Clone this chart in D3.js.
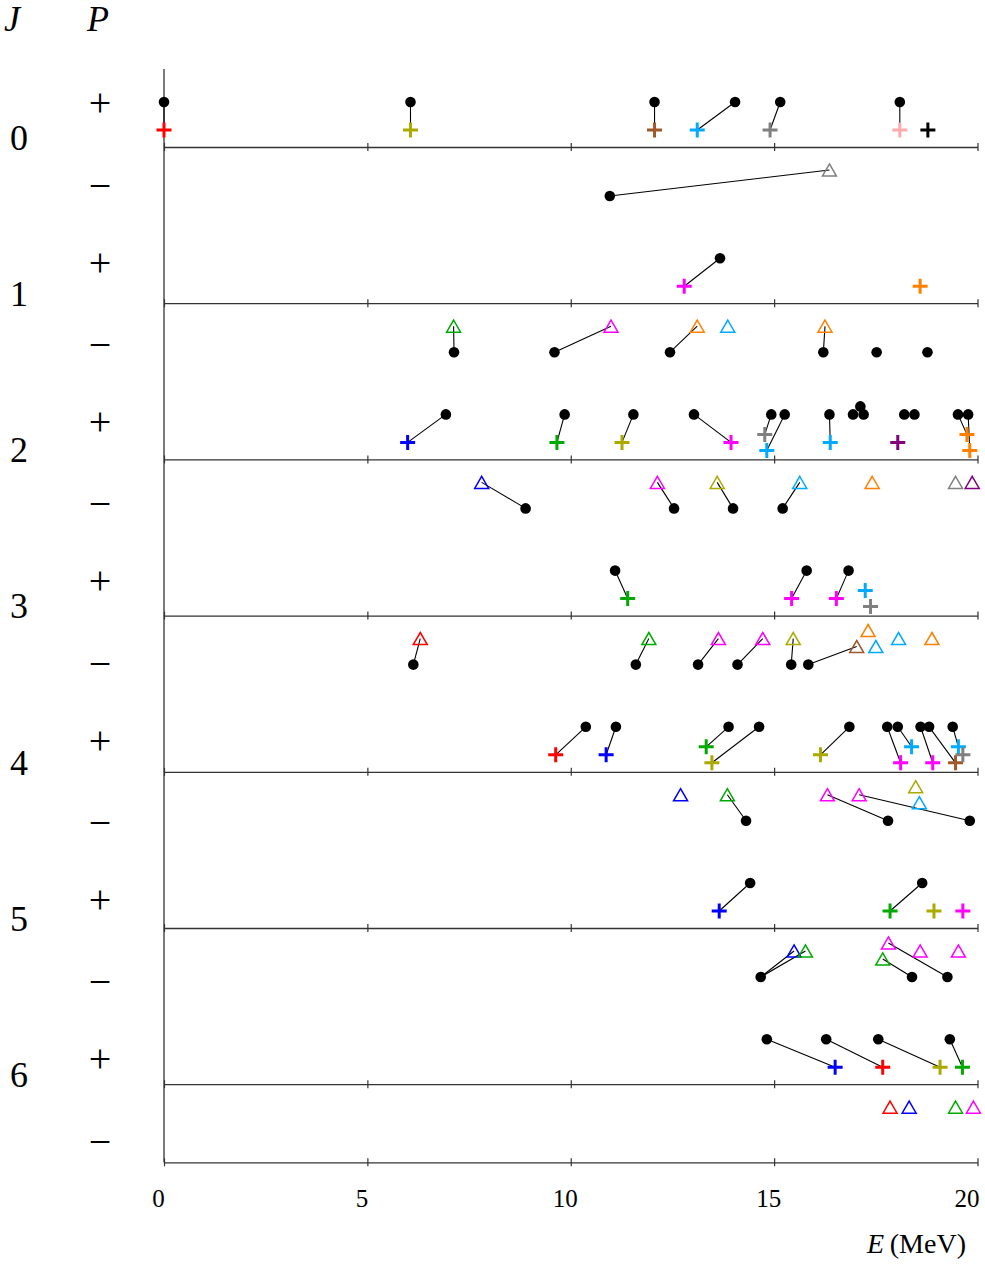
<!DOCTYPE html>
<html>
<head>
<meta charset="utf-8">
<script src="https://cdn.jsdelivr.net/npm/d3@7"></script>
<style>
body { margin: 0; background: #fff; }
text { font-family: "Liberation Serif", "DejaVu Serif", serif; fill: #000; }
</style>
</head>
<body>
<svg width="985" height="1264"></svg>
<script>
// spins and tick values
var spins = [0, 1, 2, 3, 4, 5, 6];
var energyTicks = [0, 5, 10, 15, 20];

// computed levels: [J, parity, E (MeV), tier]
var theoryLevels = [
  [0, "+", 0.00, 0], [0, "+", 6.06, 0], [0, "+", 12.06, 0], [0, "+", 14.04, 0], [0, "+", 15.15, 0], [0, "+", 18.09, 0],
  [0, "-", 10.96, 0],
  [1, "+", 13.67, 0],
  [1, "-", 7.13, 0], [1, "-", 9.60, 0], [1, "-", 12.44, 0], [1, "-", 16.21, 0], [1, "-", 17.52, 0], [1, "-", 18.77, 0],
  [2, "+", 6.93, 0], [2, "+", 9.85, 0], [2, "+", 11.54, 0], [2, "+", 13.03, 0], [2, "+", 14.93, 0], [2, "+", 15.26, 0],
  [2, "+", 16.36, 0], [2, "+", 16.94, 0], [2, "+", 17.12, 1], [2, "+", 17.20, 0], [2, "+", 18.20, 0], [2, "+", 18.45, 0],
  [2, "+", 19.52, 0], [2, "+", 19.77, 0],
  [2, "-", 8.89, 0], [2, "-", 12.54, 0], [2, "-", 13.99, 0], [2, "-", 15.21, 0],
  [3, "+", 11.09, 0], [3, "+", 15.80, 0], [3, "+", 16.83, 0],
  [3, "-", 6.13, 0], [3, "-", 11.60, 0], [3, "-", 13.13, 0], [3, "-", 14.10, 0], [3, "-", 15.42, 0], [3, "-", 15.84, 0],
  [4, "+", 10.37, 0], [4, "+", 11.11, 0], [4, "+", 13.88, 0], [4, "+", 14.63, 0], [4, "+", 16.85, 0], [4, "+", 17.78, 0],
  [4, "+", 18.04, 0], [4, "+", 18.60, 0], [4, "+", 18.81, 0], [4, "+", 19.39, 0],
  [4, "-", 14.31, 0], [4, "-", 17.80, 0], [4, "-", 19.81, 0],
  [5, "+", 14.41, 0], [5, "+", 18.64, 0],
  [5, "-", 14.67, 0], [5, "-", 18.39, 0], [5, "-", 19.26, 0],
  [6, "+", 14.82, 0], [6, "+", 16.28, 0], [6, "+", 17.56, 0], [6, "+", 19.32, 0]
];

// measured levels: [J, parity, E (MeV), group, tier, E of linked computed level or null]
var measuredLevels = [
  [0, "+", 0.00, "red", 0, 0.00], [0, "+", 6.06, "olive", 0, 6.06], [0, "+", 12.06, "brown", 0, 12.06],
  [0, "+", 13.11, "cyan", 0, 14.04], [0, "+", 14.90, "gray", 0, 15.15], [0, "+", 18.09, "pink", 0, 18.09],
  [0, "+", 18.78, "black", 0, null],
  [0, "-", 16.36, "gray", 0, 10.96],
  [1, "+", 12.79, "magenta", 0, 13.67], [1, "+", 18.59, "orange", 0, null],
  [1, "-", 7.12, "green", 0, 7.13], [1, "-", 10.99, "magenta", 0, 9.60], [1, "-", 13.11, "orange", 0, 12.44],
  [1, "-", 13.86, "cyan", 0, null], [1, "-", 16.25, "orange", 0, 16.21],
  [2, "+", 5.99, "blue", 0, 6.93], [2, "+", 9.66, "green", 0, 9.85], [2, "+", 11.26, "olive", 0, 11.54],
  [2, "+", 13.94, "magenta", 0, 13.03], [2, "+", 14.77, "gray", 1, 14.93], [2, "+", 14.82, "cyan", -1, 15.26],
  [2, "+", 16.38, "cyan", 0, 16.36], [2, "+", 18.04, "purple", 0, null], [2, "+", 19.74, "orange", 1, 19.52],
  [2, "+", 19.81, "orange", -1, 19.77],
  [2, "-", 7.81, "blue", 0, 8.89], [2, "-", 12.13, "magenta", 0, 12.54], [2, "-", 13.60, "olive", 0, 13.99],
  [2, "-", 15.63, "cyan", 0, 15.21], [2, "-", 17.41, "orange", 0, null], [2, "-", 19.46, "gray", 0, null],
  [2, "-", 19.87, "purple", 0, null],
  [3, "+", 11.40, "green", 0, 11.09], [3, "+", 15.43, "magenta", 0, 15.80], [3, "+", 16.53, "magenta", 0, 16.83],
  [3, "+", 17.24, "cyan", 1, null], [3, "+", 17.37, "gray", -1, null],
  [3, "-", 6.30, "red", 0, 6.13], [3, "-", 11.92, "green", 0, 11.60], [3, "-", 13.63, "magenta", 0, 13.13],
  [3, "-", 14.72, "magenta", 0, 14.10], [3, "-", 15.47, "olive", 0, 15.42], [3, "-", 17.03, "brown", -1, 15.84],
  [3, "-", 17.31, "orange", 1, null], [3, "-", 17.50, "cyan", -1, null], [3, "-", 18.06, "cyan", 0, null],
  [3, "-", 18.88, "orange", 0, null],
  [4, "+", 9.63, "red", 0, 10.37], [4, "+", 10.87, "blue", 0, 11.11], [4, "+", 13.33, "green", 1, 13.88],
  [4, "+", 13.47, "olive", -1, 14.63], [4, "+", 16.14, "olive", 0, 16.85], [4, "+", 18.11, "magenta", -1, 17.78],
  [4, "+", 18.38, "cyan", 1, 18.04], [4, "+", 18.90, "magenta", -1, 18.60], [4, "+", 19.46, "brown", -1, 18.81],
  [4, "+", 19.53, "cyan", 1, 19.39], [4, "+", 19.64, "gray", 0, null],
  [4, "-", 12.70, "blue", 0, null], [4, "-", 13.85, "green", 0, 14.31], [4, "-", 16.31, "magenta", 0, 17.80],
  [4, "-", 17.09, "magenta", 0, 19.81], [4, "-", 18.48, "olive", 1, null], [4, "-", 18.57, "cyan", -1, null],
  [5, "+", 13.65, "blue", 0, 14.41], [5, "+", 17.85, "green", 0, 18.64], [5, "+", 18.93, "olive", 0, null],
  [5, "+", 19.64, "magenta", 0, null],
  [5, "-", 15.49, "blue", 0, 14.67], [5, "-", 15.77, "green", 0, 14.67], [5, "-", 17.67, "green", -1, 18.39],
  [5, "-", 17.81, "magenta", 1, 19.26], [5, "-", 18.59, "magenta", 0, null], [5, "-", 19.53, "magenta", 0, null],
  [6, "+", 16.50, "blue", 0, 14.82], [6, "+", 17.67, "red", 0, 16.28], [6, "+", 19.08, "olive", 0, 17.56],
  [6, "+", 19.63, "green", 0, 19.32],
  [6, "-", 17.85, "red", 0, null], [6, "-", 18.32, "blue", 0, null], [6, "-", 19.46, "green", 0, null],
  [6, "-", 19.90, "magenta", 0, null]
];

var groups = ["red", "olive", "brown", "cyan", "gray", "pink", "black", "magenta", "orange", "green", "blue", "purple"];

var svg = d3.select("svg");

var x = d3.scaleLinear().domain([0, 20]).range([164, 977.5]);
var y = d3.scaleLinear().domain([0, 6]).range([147, 1084.2]);    // line under each J
var yP = d3.scaleLinear().domain([0, 6]).range([104, 1060]);     // "+" parity labels
var z = d3.scaleOrdinal().domain(groups)
    .range(["#ff0000", "#aaaa00", "#a0582a", "#00aaff", "#808080", "#ffaaaa", "#000000",
            "#ff00ff", "#ff8000", "#00aa00", "#0000ff", "#800080"]);

var tierStep = 8;
function theoryY(d) { return y(d[0]) + (d[1] === "+" ? -45 : 49) - d[3] * tierStep; }
function measY(d) { return y(d[0]) + (d[1] === "+" ? -17 : 23) - d[4] * tierStep; }

// frame: vertical axis
svg.append("line")
    .attr("x1", x(0)).attr("x2", x(0))
    .attr("y1", y(-0.5)).attr("y2", y(6.5))
    .attr("stroke", "#333").attr("stroke-width", 1.3);

// one horizontal axis per J plus the bottom one
var lineLevels = spins.concat([6.5]);
lineLevels.forEach(function(j) {
  var ax = svg.append("g")
      .attr("transform", "translate(0," + y(j) + ")")
      .call(d3.axisBottom(x).tickValues(energyTicks).tickSizeInner(4).tickSizeOuter(0)
            .tickFormat(j === 6.5 ? d3.format("d") : ""));
  ax.select(".domain").attr("stroke", "#333").attr("stroke-width", 1.3);
  ax.selectAll(".tick line").attr("y1", -4).attr("y2", 4).attr("stroke", "#333").attr("stroke-width", 1.2);
  ax.selectAll(".tick text")
      .attr("y", 45).attr("dy", 0)
      .attr("dx", function(d) { return d === 20 ? -11 : -6; })
      .attr("font-family", "Liberation Serif, DejaVu Serif, serif")
      .attr("font-size", 25).attr("fill", "#000");
});

// axis title
var et = svg.append("text")
    .attr("x", 966).attr("y", 1253)
    .attr("text-anchor", "end")
    .attr("font-size", 28);
et.append("tspan").attr("font-style", "italic").text("E");
et.append("tspan").text("\u2009(MeV)");

// headings
svg.append("text").attr("x", 12).attr("y", 31).attr("text-anchor", "middle")
    .attr("font-size", 36).attr("font-style", "italic").text("J");
svg.append("text").attr("x", 98).attr("y", 31).attr("text-anchor", "middle")
    .attr("font-size", 36).attr("font-style", "italic").text("P");

// J labels
svg.selectAll(".jlab").data(spins).enter().append("text")
    .attr("class", "jlab")
    .attr("x", 19).attr("y", function(d) { return y(d) - 9; })
    .attr("dy", "0.33em")
    .attr("text-anchor", "middle")
    .attr("font-size", 36)
    .text(function(d) { return d; });

// parity labels
svg.selectAll(".pplus").data(spins).enter().append("text")
    .attr("class", "pplus")
    .attr("x", 100).attr("y", function(d) { return yP(d); })
    .attr("dy", "0.31em")
    .attr("text-anchor", "middle")
    .attr("font-size", 40)
    .text("+");
svg.selectAll(".pminus").data(spins).enter().append("text")
    .attr("class", "pminus")
    .attr("x", 100).attr("y", function(d) { return yP(d) + 83; })
    .attr("dy", "0.29em")
    .attr("text-anchor", "middle")
    .attr("font-size", 40)
    .text("\u2212");

// links between computed and measured levels
function findTheory(d) {
  return theoryLevels.find(function(t) { return t[0] === d[0] && t[1] === d[1] && t[2] === d[5]; });
}
var linked = measuredLevels.filter(function(d) { return d[5] !== null && findTheory(d); });

svg.append("g").selectAll("line").data(linked).enter().append("line")
    .attr("x1", function(d) { return x(findTheory(d)[2]); })
    .attr("y1", function(d) { return theoryY(findTheory(d)); })
    .attr("x2", function(d) { return x(d[2]); })
    .attr("y2", measY)
    .attr("stroke", "#000").attr("stroke-width", 1.1);

// computed levels
svg.append("g").selectAll("circle").data(theoryLevels).enter().append("circle")
    .attr("cx", function(d) { return x(d[2]); })
    .attr("cy", theoryY)
    .attr("r", 5.3)
    .attr("fill", "#000");

// measured levels: crosses for + parity, open triangles for - parity
svg.append("g").selectAll("path").data(measuredLevels).enter().append("path")
    .attr("transform", function(d) { return "translate(" + x(d[2]) + "," + measY(d) + ")"; })
    .attr("d", function(d) {
      return d[1] === "+" ? "M-7.5,0H7.5M0,-7.5V7.5" : "M0,-6.1L7,6L-7,6Z";
    })
    .attr("fill", "none")
    .attr("stroke", function(d) { return z(d[3]); })
    .attr("stroke-width", function(d) { return d[1] === "+" ? 3 : 1.5; });
</script>
</body>
</html>
